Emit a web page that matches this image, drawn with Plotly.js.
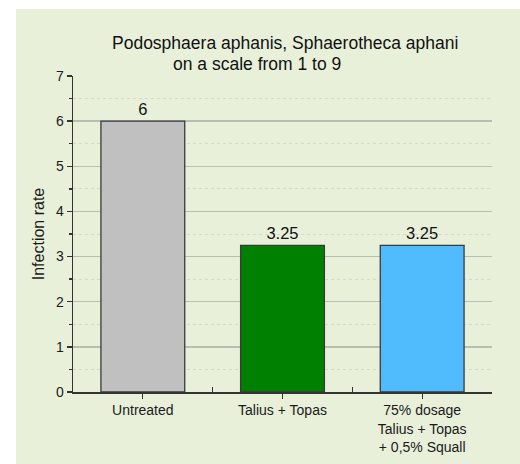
<!DOCTYPE html>
<html>
<head>
<meta charset="utf-8">
<script src="https://cdn.plot.ly/plotly-3.0.1.min.js"></script>
<style>
html,body{margin:0;padding:0;background:#ffffff;}
#chart{position:absolute;left:16px;top:9px;width:504px;height:455px;}
</style>
</head>
<body>
<div id="chart"></div>
<script>
const categories = ["Untreated", "Talius + Topas", "75% dosage<br>Talius + Topas<br>+ 0,5% Squall"];
const values = [6, 3.25, 3.25];
const valueLabels = ["6", "3.25", "3.25"];
const barColors = ["#c0c0c0", "#008000", "#50bbfd"];
const titleLine1 = "Podosphaera aphanis, Sphaerotheca aphani";
const titleLine2 = "on a scale from 1 to 9";
const yTitle = "Infection rate";
const boundaryTicks = [0.5, 1.5, 2.5];

const font = "Liberation Sans, Arial, sans-serif";

const data = [
  {
    type: "bar",
    x: categories,
    y: values,
    text: valueLabels,
    textposition: "outside",
    cliponaxis: false,
    textfont: {family: font, size: 16.5, color: "#111"},
    marker: {color: barColors, line: {color: "#3a3a3a", width: 1.3}},
    width: 0.6,
    hoverinfo: "none"
  },
  {
    type: "scatter",
    x: boundaryTicks,
    y: [0, 0, 0],
    xaxis: "x2",
    mode: "markers",
    marker: {opacity: 0},
    hoverinfo: "none",
    showlegend: false
  }
];

const layout = {
  width: 504,
  height: 455,
  margin: {l: 57, r: 28, t: 67, b: 72},
  paper_bgcolor: "#e8f0da",
  plot_bgcolor: "#e8f0da",
  showlegend: false,
  font: {family: font, size: 14, color: "#1a1a1a"},
  xaxis: {
    type: "category",
    range: [-0.5, 2.5],
    ticks: "outside",
    ticklen: 5,
    tickwidth: 1.3,
    tickcolor: "#333",
    showline: true,
    linecolor: "#333",
    linewidth: 1.5,
    showgrid: false,
    zeroline: false,
    tickfont: {family: font, size: 14, color: "#1a1a1a"}
  },
  xaxis2: {
    overlaying: "x",
    anchor: "y",
    side: "bottom",
    type: "linear",
    range: [-0.5, 2.5],
    tickvals: boundaryTicks,
    ticks: "inside",
    ticklen: 5,
    tickwidth: 1.3,
    tickcolor: "#333",
    showticklabels: false,
    showgrid: false,
    zeroline: false,
    showline: false
  },
  yaxis: {
    range: [0, 7],
    dtick: 1,
    ticks: "outside",
    ticklen: 5,
    tickwidth: 1.3,
    tickcolor: "#333",
    showline: true,
    linecolor: "#333",
    linewidth: 1.5,
    showgrid: true,
    gridcolor: "#b9bdb2",
    gridwidth: 1.5,
    zeroline: false,
    tickfont: {family: font, size: 14, color: "#1a1a1a"},
    title: {text: yTitle, font: {family: font, size: 16, color: "#1a1a1a"}, standoff: 7},
    minor: {
      dtick: 0.5,
      ticks: "outside",
      ticklen: 3,
      tickwidth: 1.3,
      tickcolor: "#333",
      showgrid: true,
      gridcolor: "#d5d9cd",
      gridwidth: 1,
      griddash: "dot"
    }
  },
  annotations: [
    {text: titleLine1, xref: "paper", yref: "paper", x: 0.506, y: 1.103, xanchor: "center", yanchor: "middle", showarrow: false, font: {family: font, size: 17.5, color: "#111"}},
    {text: titleLine2, xref: "paper", yref: "paper", x: 0.439, y: 1.038, xanchor: "center", yanchor: "middle", showarrow: false, font: {family: font, size: 17.5, color: "#111"}}
  ]
};

Plotly.newPlot("chart", data, layout, {displayModeBar: false, staticPlot: true});
</script>
</body>
</html>
